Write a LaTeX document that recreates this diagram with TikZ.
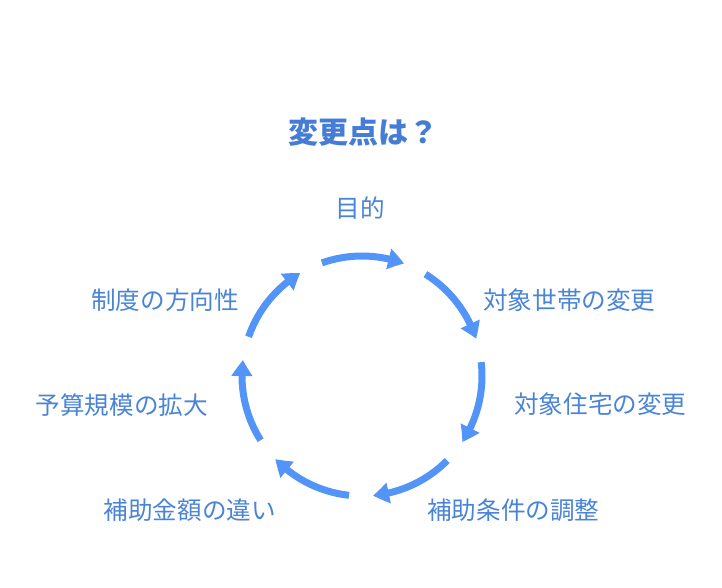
\documentclass[tikz,border=0pt]{standalone}
\usepackage{fontspec}
\setmainfont{Noto Sans CJK JP}
\usetikzlibrary{arrows.meta,bending}
\definecolor{cycblue}{RGB}{82,148,247}
\definecolor{lblblue}{RGB}{74,132,214}
\definecolor{ttlblue}{RGB}{68,124,214}

\begin{document}
\begin{tikzpicture}[x=1pt,y=1pt,
  cyc/.style={line width=7pt,draw=cycblue,-{Triangle[length=16pt,width=20pt,bend]}},
  lbl/.style={font=\fontsize{24.6}{29}\selectfont,text=lblblue,inner sep=0pt}]
  \useasboundingbox (0,0) rectangle (722,-587);
  \coordinate (c) at (362,-376);
  \node[font=\fontsize{30}{36}\selectfont\bfseries,text=ttlblue,inner sep=0pt] (title) at (363,-132) {変更点は？};
  % cycle arrows
  \foreach \i in {0,...,6}{
    \pgfmathsetmacro\a{90-\i*360/7}
    \draw[cyc] ([shift={(\a+19.5:120)}]c) arc[start angle=\a+19.5, end angle=\a-20.5, radius=120];
  }
  % labels
  \foreach \t/\p/\an [count=\i] in {目的/{360,-208}/center,
      対象世帯の変更/{483,-300}/west,対象住宅の変更/{514,-404}/west,
      補助条件の調整/{427,-510}/west,補助金額の違い/{276,-510}/east,
      予算規模の拡大/{208,-405}/east,制度の方向性/{239,-300}/east}{
    \node[lbl,anchor=\an] (step\i) at (\p) {\t};
  }
\end{tikzpicture}
\end{document}
